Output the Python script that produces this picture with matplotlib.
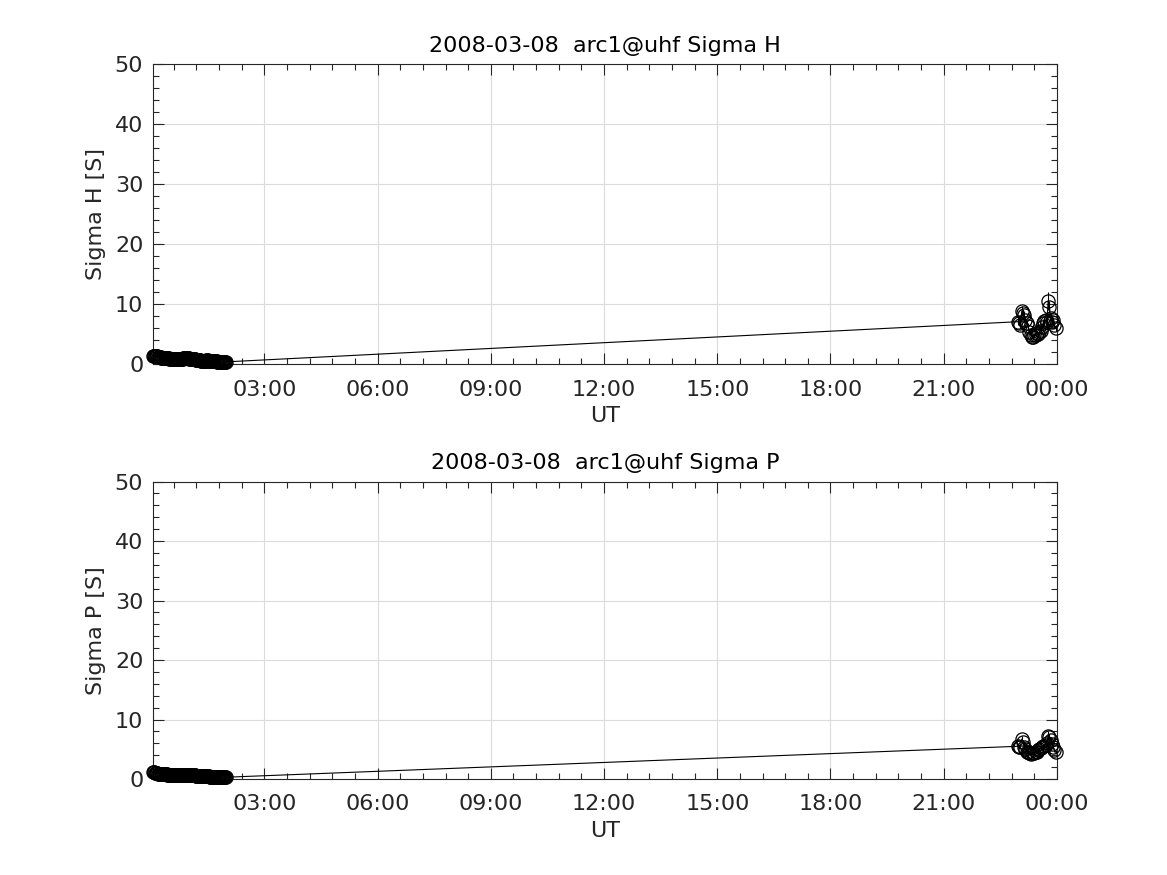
import numpy as np
import matplotlib
matplotlib.use("Agg")
import matplotlib.pyplot as plt
from matplotlib.ticker import MultipleLocator, FuncFormatter

TITLE_DATE = "2008-03-08"
SITE = "arc1@uhf"

# early-morning pass, minutes after 00:00 UT
T1_MIN = [3, 4, 5, 6, 7, 8, 9, 10, 11, 12, 13, 14, 15, 16, 17, 18, 19, 20, 21, 22,
          23, 24, 25, 26, 27, 28, 29, 30, 31, 32, 33, 34, 35, 36, 37, 38, 39, 40, 41, 42,
          43, 44, 45, 46, 47, 48, 49, 50, 51, 52, 53, 54, 55, 56, 57, 58, 59, 60, 61, 62,
          63, 64, 65, 66, 67, 68, 69, 70, 71, 72, 73, 74, 75, 76, 77, 78, 79, 80, 81, 82,
          83, 84, 85, 86, 87, 88, 89, 90, 91, 92, 93, 94, 95, 96, 97, 98, 99, 100, 101, 102,
          103, 104, 105, 106, 107, 108, 109, 110, 111, 112, 113, 114, 115, 116, 117, 118, 119]
H1 = [1.4, 1.4, 1.4, 1.3, 1.3, 1.3, 1.3, 1.3, 1.2, 1.2,
      1.2, 1.2, 1.2, 1.1, 1.1, 1.1, 1.1, 1.1, 1.1, 1.0,
      1.0, 1.0, 1.0, 1.0, 1.0, 1.0, 0.9, 0.9, 0.9, 0.9,
      0.9, 0.9, 0.9, 0.9, 0.9, 0.9, 0.9, 0.8, 0.8, 0.8,
      0.8, 0.8, 0.8, 0.8, 0.8, 0.9, 0.9, 0.9, 1.0, 1.0,
      1.0, 1.1, 1.1, 1.0, 1.0, 1.0, 1.0, 1.0, 0.9, 0.9,
      0.9, 0.9, 0.8, 0.8, 0.8, 0.8, 0.8, 0.8, 0.7, 0.7,
      0.7, 0.7, 0.7, 0.7, 0.7, 0.7, 0.6, 0.6, 0.6, 0.6,
      0.6, 0.6, 0.6, 0.6, 0.6, 0.7, 0.7, 0.7, 0.6, 0.6,
      0.6, 0.6, 0.5, 0.5, 0.5, 0.5, 0.5, 0.5, 0.5, 0.5,
      0.5, 0.5, 0.4, 0.4, 0.4, 0.4, 0.4, 0.4, 0.4, 0.4,
      0.4, 0.4, 0.4, 0.4, 0.4, 0.4, 0.4]
P1 = [1.1, 1.1, 1.1, 1.0, 1.0, 1.0, 1.0, 1.0, 0.9, 0.9,
      0.9, 0.9, 0.9, 0.9, 0.9, 0.8, 0.8, 0.8, 0.8, 0.8,
      0.8, 0.8, 0.8, 0.7, 0.7, 0.7, 0.7, 0.7, 0.7, 0.7,
      0.7, 0.7, 0.7, 0.7, 0.7, 0.7, 0.7, 0.6, 0.6, 0.6,
      0.6, 0.6, 0.6, 0.6, 0.6, 0.6, 0.7, 0.7, 0.7, 0.7,
      0.7, 0.7, 0.7, 0.7, 0.7, 0.7, 0.6, 0.6, 0.6, 0.6,
      0.6, 0.6, 0.6, 0.6, 0.6, 0.6, 0.6, 0.6, 0.5, 0.5,
      0.5, 0.5, 0.5, 0.5, 0.5, 0.5, 0.5, 0.5, 0.5, 0.5,
      0.5, 0.5, 0.5, 0.5, 0.5, 0.5, 0.5, 0.5, 0.5, 0.5,
      0.4, 0.4, 0.4, 0.4, 0.4, 0.4, 0.4, 0.4, 0.4, 0.4,
      0.4, 0.4, 0.4, 0.3, 0.3, 0.3, 0.3, 0.3, 0.3, 0.3,
      0.3, 0.3, 0.3, 0.3, 0.3, 0.3, 0.3]

# late-evening pass
T2_MIN = [1378, 1380, 1382, 1384, 1386, 1388, 1390, 1392, 1394, 1396,
          1398, 1400, 1402, 1404, 1406, 1408, 1410, 1412, 1414, 1416,
          1418, 1420, 1422, 1424, 1426, 1428, 1430, 1432, 1434, 1436, 1438]
H2 = [7.1, 6.8, 6.5, 8.9, 8.6, 8.2, 7.4, 6.8, 6.3, 5.4,
      4.9, 4.6, 4.5, 4.8, 4.9, 5.2, 5.0, 5.3, 5.6, 6.2,
      6.9, 7.2, 7.4, 7.0, 10.5, 9.6, 7.7, 7.1, 7.3, 6.5, 6.1]
H2_ERR = [0.5, 0.5, 0.5, 0.8, 0.7, 0.7, 0.6, 0.5, 0.5, 0.4,
          0.4, 0.4, 0.4, 0.4, 0.4, 0.4, 0.4, 0.4, 0.5, 0.5,
          0.6, 0.6, 0.6, 0.6, 1.5, 1.0, 0.7, 0.6, 0.6, 0.5, 0.5]
P2 = [5.5, 5.3, 5.4, 6.7, 6.2, 5.4, 5.0, 4.6, 4.5, 4.3,
      4.2, 4.4, 4.3, 4.4, 4.6, 4.6, 4.8, 5.0, 5.2, 5.3,
      5.5, 5.6, 5.8, 6.0, 7.3, 7.0, 6.6, 5.9, 5.4, 4.9, 4.5]
P2_ERR = [0.3, 0.3, 0.3, 0.5, 0.4, 0.4, 0.3, 0.3, 0.3, 0.3,
          0.3, 0.3, 0.3, 0.3, 0.3, 0.3, 0.3, 0.3, 0.3, 0.3,
          0.4, 0.4, 0.4, 0.4, 0.8, 0.6, 0.5, 0.4, 0.4, 0.3, 0.3]

DARK = (0.15, 0.15, 0.15)


def hhmm(x, pos):
    m = int(round(x * 60))
    return "%02d:%02d" % (m // 60 % 24, m % 60)


def panel(ax, y1, y2, err2, name):
    t = np.array(T1_MIN + T2_MIN) / 60.0
    y = np.array(y1 + y2)
    ax.plot(t, y, "-o", color="k", mfc="none", ms=9.5, lw=0.8, mew=0.9,
            clip_on=False, zorder=3)
    ax.errorbar(np.array(T2_MIN) / 60.0, y2, yerr=err2, fmt="none",
                ecolor="k", elinewidth=0.8, capsize=0, zorder=3)
    ax.set_xlim(T1_MIN[0] / 60.0, 24)
    ax.set_ylim(0, 50)
    ax.xaxis.set_major_locator(MultipleLocator(3))
    ax.xaxis.set_minor_locator(MultipleLocator(0.6))
    ax.yaxis.set_major_locator(MultipleLocator(10))
    ax.yaxis.set_minor_locator(MultipleLocator(2))
    ax.xaxis.set_major_formatter(FuncFormatter(hhmm))
    ax.tick_params(which="both", direction="in", top=True, right=True,
                   colors=DARK, labelsize=16, width=0.8, pad=7)
    ax.tick_params(axis="x", which="both", pad=11)
    ax.tick_params(which="major", length=8)
    ax.tick_params(which="minor", length=4)
    ax.grid(True, which="major", color=(0.86, 0.86, 0.86), lw=0.8)
    ax.set_axisbelow(True)
    for s in ax.spines.values():
        s.set_color(DARK)
        s.set_linewidth(0.8)
    ax.set_xlabel("UT", fontsize=16, color=DARK, labelpad=5)
    ax.set_ylabel(name + " [S]", fontsize=16, color=DARK, labelpad=6)
    ax.set_title(TITLE_DATE + "  " + SITE + " " + name, fontsize=16,
                 color="k", pad=9)


fig = plt.figure(figsize=(11.67, 8.75), dpi=100)
ax1 = fig.add_axes([0.1311, 0.5837, 0.7746, 0.3426])
ax2 = fig.add_axes([0.1311, 0.1097, 0.7746, 0.3400])
panel(ax1, H1, H2, H2_ERR, "Sigma H")
panel(ax2, P1, P2, P2_ERR, "Sigma P")

fig.savefig("out.png", dpi=100)
